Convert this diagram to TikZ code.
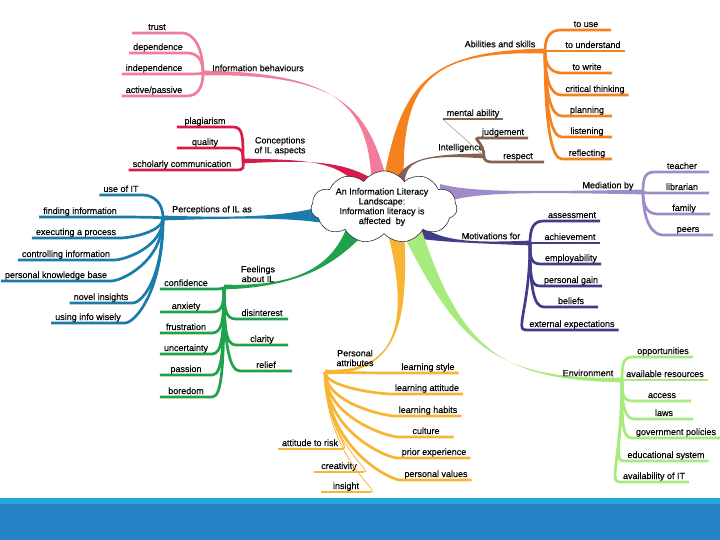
\documentclass[tikz,border=0pt]{standalone}
\usepackage{fontspec}
\setmainfont{Liberation Sans}
\newfontfamily\mapfamily{Liberation Sans}[FakeBold=0.35]
\usetikzlibrary{shapes.symbols, calc}

\definecolor{ilpink}{HTML}{F27D9A}
\definecolor{ilred}{HTML}{D81B4A}
\definecolor{ilorange}{HTML}{F5821F}
\definecolor{ilbrown}{HTML}{85614F}
\definecolor{illilac}{HTML}{A08BC9}
\definecolor{ilnavy}{HTML}{413D86}
\definecolor{ilblue}{HTML}{1B7BAA}
\definecolor{ilgreen}{HTML}{1FA24B}
\definecolor{ilyellow}{HTML}{F8B535}
\definecolor{illime}{HTML}{A8EB7D}
\definecolor{bandlight}{HTML}{22A9E0}
\definecolor{banddark}{HTML}{2683C6}

\newcommand{\mapfont}{\mapfamily\fontsize{9}{9.8}\selectfont}
% tapered band from a hub to the cloud
\newcommand{\ribbon}[6]{%
  \fill[#1] ($(#2)+(0,2.4)$) .. controls #3 and #4 .. ($#5+#6$)
    -- ($#5-#6$) .. controls #4 and #3 .. ($(#2)-(0,2.4)$) -- cycle;}

\begin{document}
\begin{tikzpicture}[
    x=1pt, y=-1pt,
    leaf/.style={font=\mapfont, inner xsep=4pt, inner ysep=1pt, text height=6.5pt, text depth=1.8pt, anchor=south, minimum width=#1},
    leaf/.default=0pt,
    topic/.style={font=\mapfont, align=center, inner sep=0pt},
    twig/.style={draw=#1, line width=2.7pt},
    fan/.style={to path={.. controls ($(\tikztostart)!.7!(\tikztostart|-\tikztotarget)$) and ($(\tikztotarget)+(#1,0)$) .. (\tikztotarget)}}
]
\useasboundingbox (0,0) rectangle (720,540);
\fill[bandlight] (0,498) rectangle (720,504);
\fill[banddark] (0,504) rectangle (720,540);

% hubs
\coordinate (ibhub) at (203,73);
\coordinate (cohub) at (243,161);
\coordinate (abhub) at (545,51);
\coordinate (inhub) at (484,156);
\coordinate (mdhub) at (643,192);
\coordinate (mohub) at (530,243);
\coordinate (pehub) at (163,218);
\coordinate (fehub) at (224,287);
\coordinate (pahub) at (325,372);
\coordinate (enhub) at (622,380);

% main bands
\ribbon{ilpink}{ibhub}{(348,73)}{(370,112)}{(381,192)}{(9,0)}
\ribbon{ilred}{cohub}{(310,160)}{(345,160)}{(372,190)}{(7,-7)}
\ribbon{ilorange}{abhub}{(430,51)}{(400,80)}{(393,190)}{(11,0)}
\ribbon{ilbrown}{inhub}{(420,154)}{(402,160)}{(398,190)}{(7,0)}
\ribbon{illilac}{mdhub}{(520,192)}{(470,192)}{(440,194)}{(0,10)}
\ribbon{ilnavy}{mohub}{(470,243)}{(440,242)}{(415,230)}{(0,8)}
\ribbon{ilblue}{pehub}{(240,218)}{(290,217)}{(330,214)}{(0,10)}
\ribbon{ilgreen}{fehub}{(300,287)}{(335,265)}{(358,226)}{(9,5)}
\ribbon{ilyellow}{pahub}{(405,374)}{(408,310)}{(395,226)}{(9,0)}
\ribbon{illime}{enhub}{(500,380)}{(460,350)}{(410,226)}{(9,-4)}

\node[cloud, cloud puffs=11, cloud puff arc=110, cloud ignores aspect, draw=black!80, fill=white, line width=0.6pt, minimum width=146pt, minimum height=72pt, inner sep=0pt] (core) at (384,207) {};
\node[topic] (coretext) at (382,207) {An Information Literacy\\Landscape:\\Information literacy is\\affected\ \ by};

% Information behaviours
\node[topic] (ibtitle) at (258,68) {Information behaviours};
\node[leaf=50] (trust) at (157,33) {trust};
\node[leaf] (depend) at (158,53) {dependence};
\node[leaf] (indep) at (154,74) {independence};
\node[leaf] (active) at (154,96) {active/passive};

% Conceptions of IL aspects
\node[topic] (cotitle) at (280,146) {Conceptions\\of IL aspects};
\node[leaf=56] (plag) at (205,127) {plagiarism};
\node[leaf=56] (quality) at (205,148) {quality};
\node[leaf] (scholar) at (182,170) {scholarly communication};

% Abilities and skills
\node[topic] (abtitle) at (500,44) {Abilities and skills};
\node[leaf=50] (touse) at (586,30) {to use};
\node[leaf] (tounder) at (593,51) {to understand};
\node[leaf=50] (towrite) at (587,73) {to write};
\node[leaf] (critical) at (595,95) {critical thinking};
\node[leaf=50] (planning) at (587,116) {planning};
\node[leaf=50] (listening) at (587,137) {listening};
\node[leaf=50] (reflect) at (587,159) {reflecting};

% Intelligence
\node[topic] (intitle) at (461,148) {Intelligence};
\node[leaf] (mental) at (473,119) {mental ability};
\node[leaf] (judge) at (503,138) {judgement};
\node[leaf=52] (respect) at (518,162) {respect};

% Mediation by
\node[topic] (mdtitle) at (608,186) {Mediation by};
\node[leaf=54] (teacher) at (682,172) {teacher};
\node[leaf=54] (librarian) at (682,193) {librarian};
\node[leaf=52] (family) at (684,214) {family};
\node[leaf=50] (peers) at (688,235) {peers};

% Motivations for
\node[topic] (motitle) at (491,236) {Motivations for};
\node[leaf] (assess) at (572,221) {assessment};
\node[leaf] (achieve) at (570,243) {achievement};
\node[leaf] (employ) at (571,264) {employability};
\node[leaf] (gain) at (571,286) {personal gain};
\node[leaf=54] (beliefs) at (571,307) {beliefs};
\node[leaf] (external) at (572,330) {external expectations};

% Perceptions of IL as
\node[topic] (petitle) at (212,210) {Perceptions of IL as};
\node[leaf] (useit) at (121,195) {use of IT};
\node[leaf] (finding) at (80,217) {finding information};
\node[leaf] (executing) at (76,238) {executing a process};
\node[leaf] (controlling) at (66,260) {controlling information};
\node[leaf] (pkb) at (56,281) {personal knowledge base};
\node[leaf] (novel) at (101,303) {novel insights};
\node[leaf] (wisely) at (88,323) {using info wisely};

% Feelings about IL
\node[topic] (fetitle) at (258,274) {Feelings\\about IL};
\node[leaf=52] (confidence) at (186,289) {confidence};
\node[leaf=52] (anxiety) at (186,312) {anxiety};
\node[leaf=52] (frustration) at (186,333) {frustration};
\node[leaf=52] (uncertainty) at (186,354) {uncertainty};
\node[leaf=52] (passion) at (186,375) {passion};
\node[leaf=52] (boredom) at (186,397) {boredom};
\node[leaf=52] (disinterest) at (262,319) {disinterest};
\node[leaf=52] (clarity) at (262,345) {clarity};
\node[leaf=52] (relief) at (266,371) {relief};

% Personal attributes
\node[topic] (patitle) at (355,358) {Personal\\attributes};
\node[leaf] (lstyle) at (428,373) {learning style};
\node[leaf] (lattitude) at (427,394) {learning attitude};
\node[leaf] (lhabits) at (428,416) {learning habits};
\node[leaf=55] (culture) at (426,437) {culture};
\node[leaf] (prior) at (434,458) {prior experience};
\node[leaf] (values) at (436,480) {personal values};
\node[leaf] (risk) at (310,449) {attitude to risk};
\node[leaf=50] (creativity) at (339,472) {creativity};
\node[leaf=50] (insight) at (346,492) {insight};

% Environment
\node[topic] (entitle) at (588,373) {Environment};
\node[leaf] (opport) at (663,357) {opportunities};
\node[leaf] (resources) at (665,380) {available resources};
\node[leaf=58] (access) at (662,401) {access};
\node[leaf=58] (laws) at (664,419) {laws};
\node[leaf] (govern) at (676,438) {government policies};
\node[leaf] (edusys) at (666,461) {educational system};
\node[leaf] (itavail) at (654,482) {availability of IT};

% Connectors
\draw[twig=ilpink] (ibhub) to[fan=10] (trust.south east) -- (trust.south west);
\draw[twig=ilpink] (ibhub) to[fan=10] (depend.south east) -- (depend.south west);
\draw[twig=ilpink] (ibhub) to[fan=10] (indep.south east) -- (indep.south west);
\draw[twig=ilpink] (ibhub) to[fan=10] (active.south east) -- (active.south west);

\draw[twig=ilred] (cohub) to[fan=10] (plag.south east) -- (plag.south west);
\draw[twig=ilred] (cohub) to[fan=10] (quality.south east) -- (quality.south west);
\draw[twig=ilred] (cohub) to[fan=10] (scholar.south east) -- (scholar.south west);

\draw[twig=ilorange] (abhub) to[fan=-10] (touse.south west) -- (touse.south east);
\draw[twig=ilorange] (abhub) to[fan=-10] (tounder.south west) -- (tounder.south east);
\draw[twig=ilorange] (abhub) to[fan=-10] (towrite.south west) -- (towrite.south east);
\draw[twig=ilorange] (abhub) to[fan=-10] (critical.south west) -- (critical.south east);
\draw[twig=ilorange] (abhub) to[fan=-10] (planning.south west) -- (planning.south east);
\draw[twig=ilorange] (abhub) to[fan=-10] (listening.south west) -- (listening.south east);
\draw[twig=ilorange] (abhub) to[fan=-10] (reflect.south west) -- (reflect.south east);

\draw[ilbrown!60, line width=0.6pt] (inhub) -- (mental.south west);
\draw[twig=ilbrown] (mental.south west) -- (mental.south east);
\draw[twig=ilbrown] (inhub) to[fan=-5] (judge.south west) -- (judge.south east);
\draw[twig=ilbrown] (inhub) to[fan=-5] (respect.south west) -- (respect.south east);

\draw[twig=illilac] (mdhub) to[fan=-10] (teacher.south west) -- (teacher.south east);
\draw[twig=illilac] (mdhub) to[fan=-10] (librarian.south west) -- (librarian.south east);
\draw[twig=illilac] (mdhub) to[fan=-10] (family.south west) -- (family.south east);
\draw[twig=illilac] (mdhub) to[fan=-10] (peers.south west) -- (peers.south east);

\draw[twig=ilnavy] (mohub) to[fan=-10] (assess.south west) -- (assess.south east);
\draw[twig=ilnavy] (mohub) to[fan=-10] (achieve.south west) -- (achieve.south east);
\draw[twig=ilnavy] (mohub) to[fan=-10] (employ.south west) -- (employ.south east);
\draw[twig=ilnavy] (mohub) to[fan=-10] (gain.south west) -- (gain.south east);
\draw[twig=ilnavy] (mohub) to[fan=-10] (beliefs.south west) -- (beliefs.south east);
\draw[twig=ilnavy] (mohub) to[fan=-10] (external.south west) -- (external.south east);

\draw[twig=ilblue] (pehub) to[fan=10] (useit.south east) -- (useit.south west);
\draw[twig=ilblue] (pehub) to[fan=10] (finding.south east) -- (finding.south west);
\draw[twig=ilblue] (pehub) to[fan=10] (executing.south east) -- (executing.south west);
\draw[twig=ilblue] (pehub) to[fan=10] (controlling.south east) -- (controlling.south west);
\draw[twig=ilblue] (pehub) to[fan=10] (pkb.south east) -- (pkb.south west);
\draw[twig=ilblue] (pehub) to[fan=10] (novel.south east) -- (novel.south west);
\draw[twig=ilblue] (pehub) to[fan=10] (wisely.south east) -- (wisely.south west);

\draw[twig=ilgreen] (fehub) to[fan=10] (confidence.south east) -- (confidence.south west);
\draw[twig=ilgreen] (fehub) to[fan=10] (anxiety.south east) -- (anxiety.south west);
\draw[twig=ilgreen] (fehub) to[fan=10] (frustration.south east) -- (frustration.south west);
\draw[twig=ilgreen] (fehub) to[fan=10] (uncertainty.south east) -- (uncertainty.south west);
\draw[twig=ilgreen] (fehub) to[fan=10] (passion.south east) -- (passion.south west);
\draw[twig=ilgreen] (fehub) to[fan=10] (boredom.south east) -- (boredom.south west);
\draw[twig=ilgreen] (fehub) to[fan=-10] (disinterest.south west) -- (disinterest.south east);
\draw[twig=ilgreen] (fehub) to[fan=-10] (clarity.south west) -- (clarity.south east);
\draw[twig=ilgreen] (fehub) to[fan=-10] (relief.south west) -- (relief.south east);

\draw[twig=ilyellow] (pahub) to[fan=-10] (lstyle.south west) -- (lstyle.south east);
\draw[twig=ilyellow] (pahub) to[fan=-10] (lattitude.south west) -- (lattitude.south east);
\draw[twig=ilyellow] (pahub) to[fan=-10] (lhabits.south west) -- (lhabits.south east);
\draw[twig=ilyellow] (pahub) to[fan=-10] (culture.south west) -- (culture.south east);
\draw[twig=ilyellow] (pahub) to[fan=-10] (prior.south west) -- (prior.south east);
\draw[twig=ilyellow] (pahub) to[fan=-10] (values.south west) -- (values.south east);
\draw[ilyellow, line width=1.2pt] (pahub) to[fan=10] (risk.south east);
\draw[twig=ilyellow] (risk.south east) -- (risk.south west);
\draw[ilyellow, line width=0.8pt] (pahub) to[fan=10] (creativity.south east);
\draw[twig=ilyellow] (creativity.south east) -- (creativity.south west);
\draw[ilyellow, line width=0.8pt] (pahub) to[fan=10] (insight.south east);
\draw[twig=ilyellow] (insight.south east) -- (insight.south west);

\draw[twig=illime] (enhub) to[fan=-10] (opport.south west) -- (opport.south east);
\draw[twig=illime] (enhub) to[fan=-10] (resources.south west) -- (resources.south east);
\draw[twig=illime] (enhub) to[fan=-10] (access.south west) -- (access.south east);
\draw[twig=illime] (enhub) to[fan=-10] (laws.south west) -- (laws.south east);
\draw[twig=illime] (enhub) to[fan=-10] (govern.south west) -- (govern.south east);
\draw[twig=illime] (enhub) to[fan=-10] (edusys.south west) -- (edusys.south east);
\draw[twig=illime] (enhub) to[fan=-10] (itavail.south west) -- (itavail.south east);

\end{tikzpicture}
\end{document}
